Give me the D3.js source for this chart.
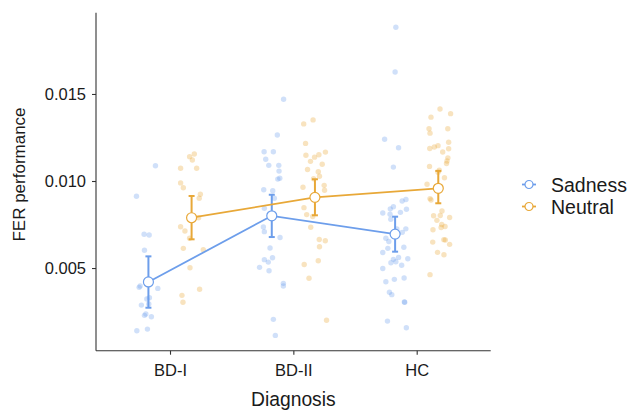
<!DOCTYPE html>
<html>
<head>
<meta charset="utf-8">
<script src="https://cdn.jsdelivr.net/npm/d3@7"></script>
<style>
  body { margin: 0; background: #fff; }
  text { font-family: "Liberation Sans", Arial, Helvetica, sans-serif; }
</style>
</head>
<body>
<div id="chart"></div>
<script>
var width = 629;
var height = 411;
var margin = {top: 12.7, right: 138.3, bottom: 60.3, left: 96};

let diagnoses = ["BD-I", "BD-II", "HC"];
let emotions = ["Sadness", "Neutral"];
let yTicks = [0.005, 0.010, 0.015];

// group means and error bar ends
let meanSadness = [0.0042, 0.0080, 0.00695];
let lowSadness = [0.00272, 0.00678, 0.00594];
let highSadness = [0.00567, 0.00921, 0.00795];
let meanNeutral = [0.00789, 0.00906, 0.00958];
let lowNeutral = [0.00665, 0.00803, 0.00872];
let highNeutral = [0.00914, 0.0101, 0.01058];

// raw points, with jitter in category units
let sadBD1 = [0.01088, 0.00912, 0.00694, 0.00690, 0.00602, 0.00389, 0.00397, 0.00383, 0.00322, 0.00329, 0.00287, 0.00293, 0.00228, 0.00236, 0.00220, 0.00140, 0.00149];
let sadBD1Jit = [.057, -.097, -.035, .006, -.032, -.075, -.067, .076, -.013, .008, -.057, .003, -.032, -.021, .024, -.094, -.008];
let neuBD1 = [0.01140, 0.01121, 0.01155, 0.01073, 0.01073, 0.00989, 0.00961, 0.00924, 0.00901, 0.00789, 0.00737, 0.00713, 0.00671, 0.00613, 0.00605, 0.00502, 0.00378, 0.00343, 0.00303];
let neuBD1Jit = [-.016, .006, .022, -.089, .041, -.089, -.067, .071, .062, .057, -.089, -.054, -.016, -.067, .095, -.013, .065, -.078, -.070];
let sadBD2 = [0.01470, 0.01264, 0.01168, 0.01168, 0.01125, 0.01090, 0.01090, 0.01057, 0.01016, 0.01011, 0.00950, 0.00944, 0.00901, 0.00843, 0.00736, 0.00709, 0.00675, 0.00615, 0.00548, 0.00559, 0.00534, 0.00504, 0.00484, 0.00412, 0.00397, 0.00205, 0.00113];
let sadBD2Jit = [.096, .045, -.062, .013, -.049, -.024, .057, .059, .065, .049, -.065, .008, .021, -.060, -.068, -.060, .067, -.014, -.060, .006, -.028, -.099, -.022, .094, .094, .013, .029];
let neuBD2 = [0.01328, 0.01351, 0.01216, 0.01148, 0.01113, 0.01137, 0.01151, 0.01166, 0.01096, 0.01066, 0.01053, 0.01027, 0.01013, 0.00964, 0.00975, 0.00947, 0.00847, 0.00807, 0.00796, 0.00734, 0.00664, 0.00657, 0.00622, 0.00520, 0.00542, 0.00441, 0.00200];
let neuBD2Jit = [-.091, -.015, -.076, -.073, -.036, -.003, .032, .085, .059, -.060, .027, .037, -.011, -.097, .075, .078, -.089, -.067, -.018, -.034, .035, .084, .037, -.087, .027, -.048, .094];
let sadHC = [0.01883, 0.01626, 0.01240, 0.01191, 0.01080, 0.00885, 0.00894, 0.00816, 0.00840, 0.00852, 0.00820, 0.00838, 0.00809, 0.00780, 0.00705, 0.00725, 0.00724, 0.00671, 0.00652, 0.00613, 0.00589, 0.00619, 0.00550, 0.00530, 0.00536, 0.00561, 0.00516, 0.00553, 0.00497, 0.00421, 0.00435, 0.00443, 0.00361, 0.00347, 0.00305, 0.00303, 0.00195, 0.00157];
let sadHCJit = [.006, 0, -.085, .028, -.014, .057, .088, -.100, -.039, -.014, .043, .092, -.041, -.035, .058, .087, .014, -.075, -.051, -.059, -.100, .071, -.014, -.034, .006, .028, .053, .103, -.100, -.075, -.006, .073, -.046, -.027, .075, .078, -.062, .091];
let neuHC = [0.01414, 0.01387, 0.01367, 0.01300, 0.01275, 0.01300, 0.01223, 0.01187, 0.01195, 0.01203, 0.01185, 0.01167, 0.01133, 0.01101, 0.01115, 0.01084, 0.01062, 0.01051, 0.01019, 0.00981, 0.00899, 0.00891, 0.00828, 0.00800, 0.00774, 0.00802, 0.00790, 0.00750, 0.00733, 0.00739, 0.00720, 0.00663, 0.00661, 0.00636, 0.00649, 0.00590, 0.00576, 0.00462];
let neuHCJit = [.014, .100, -.059, -.075, -.067, .077, .084, -.069, -.032, -.002, .084, .036, .078, .067, .071, -.071, .008, -.002, .050, -.091, -.067, -.059, .030, -.038, -.011, .016, .092, .028, .023, .055, -.043, .045, .057, .092, -.045, -.006, .046, -.067];

let colors = {Sadness: "#6d9eeb", Neutral: "#e8a838"};
let dodge = 0.175;

// build tables for d3
let rawSets = [
  ["BD-I", "Sadness", sadBD1, sadBD1Jit], ["BD-I", "Neutral", neuBD1, neuBD1Jit],
  ["BD-II", "Sadness", sadBD2, sadBD2Jit], ["BD-II", "Neutral", neuBD2, neuBD2Jit],
  ["HC", "Sadness", sadHC, sadHCJit], ["HC", "Neutral", neuHC, neuHCJit]
];
let points = [];
rawSets.forEach(s => s[2].forEach((v, i) => points.push({dx: s[0], emo: s[1], v: v, j: s[3][i]})));

let summary = {
  Sadness: diagnoses.map((d, i) => ({dx: d, m: meanSadness[i], lo: lowSadness[i], hi: highSadness[i]})),
  Neutral: diagnoses.map((d, i) => ({dx: d, m: meanNeutral[i], lo: lowNeutral[i], hi: highNeutral[i]}))
};

let innerW = width - margin.left - margin.right;
let innerH = height - margin.top - margin.bottom;

let x = d3.scalePoint().domain(diagnoses).range([0, innerW]).padding(0.6);
let y = d3.scaleLinear().domain([0.00025, 0.01967]).range([innerH, 0]);
let step = x.step();
let off = {Sadness: -dodge * step, Neutral: dodge * step};

let svg = d3.select("#chart").append("svg")
  .attr("width", width).attr("height", height);

let g = svg.append("g")
  .attr("transform", "translate(" + margin.left + "," + margin.top + ")");

// jittered points
g.selectAll(".pt").data(points).enter().append("circle")
  .attr("class", "pt")
  .attr("cx", d => x(d.dx) + off[d.emo] + d.j * step)
  .attr("cy", d => y(d.v))
  .attr("r", 2.7)
  .attr("fill", d => colors[d.emo])
  .attr("fill-opacity", 0.32);

emotions.forEach(function(e) {
  let s = summary[e];
  let c = colors[e];
  g.append("path")
    .datum(s)
    .attr("fill", "none")
    .attr("stroke", c)
    .attr("stroke-width", 1.8)
    .attr("d", d3.line().x(d => x(d.dx) + off[e]).y(d => y(d.m)));

  let eb = g.selectAll(".eb-" + e).data(s).enter().append("g")
    .attr("transform", d => "translate(" + (x(d.dx) + off[e]) + ",0)");
  eb.append("line").attr("y1", d => y(d.lo)).attr("y2", d => y(d.hi))
    .attr("stroke", c).attr("stroke-width", 2);
  eb.append("line").attr("x1", -3).attr("x2", 3).attr("y1", d => y(d.lo)).attr("y2", d => y(d.lo))
    .attr("stroke", c).attr("stroke-width", 2);
  eb.append("line").attr("x1", -3).attr("x2", 3).attr("y1", d => y(d.hi)).attr("y2", d => y(d.hi))
    .attr("stroke", c).attr("stroke-width", 2);
  eb.append("circle").attr("cy", d => y(d.m)).attr("r", 5)
    .attr("fill", "#fff").attr("stroke", c).attr("stroke-width", 1.2);
});

// axes
let yAxis = g.append("g")
  .call(d3.axisLeft(y).tickValues(yTicks).tickFormat(d3.format(".3f")).tickSize(4).tickPadding(6));
let xAxis = g.append("g")
  .attr("transform", "translate(0," + innerH + ")")
  .call(d3.axisBottom(x).tickSize(4).tickPadding(10));

[xAxis, yAxis].forEach(a => {
  a.select(".domain").attr("stroke", "#333").attr("stroke-width", 1.1);
  a.selectAll(".tick line").attr("stroke", "#333").attr("stroke-width", 1.1);
  a.selectAll(".tick text").attr("fill", "#1a1a1a").style("font-size", "16.5px");
});
// ggplot style axis lines stop at the ends
yAxis.select(".domain").attr("d", "M0," + innerH + "V0");
xAxis.select(".domain").attr("d", "M0,0H" + innerW);

svg.append("text")
  .attr("x", margin.left + innerW / 2)
  .attr("y", 406)
  .attr("text-anchor", "middle")
  .attr("fill", "#1a1a1a")
  .style("font-size", "19.3px")
  .text("Diagnosis");

svg.append("text")
  .attr("transform", "translate(25,174.5) rotate(-90)")
  .attr("text-anchor", "middle")
  .attr("fill", "#1a1a1a")
  .style("font-size", "17px")
  .text("FER performance");

// legend
let legend = svg.append("g").attr("transform", "translate(522,184.5)");
let item = legend.selectAll(".item").data(emotions).enter().append("g")
  .attr("transform", (d, i) => "translate(0," + i * 22 + ")");
item.append("line").attr("x1", 0).attr("x2", 14)
  .attr("stroke", d => colors[d]).attr("stroke-width", 1.8);
item.append("circle").attr("cx", 7).attr("r", 4)
  .attr("fill", "#fff").attr("stroke", d => colors[d]).attr("stroke-width", 1.2);
item.append("text").attr("x", 29).attr("y", 7)
  .attr("fill", "#1a1a1a")
  .style("font-size", "19.5px")
  .text(d => d);
</script>
</body>
</html>
